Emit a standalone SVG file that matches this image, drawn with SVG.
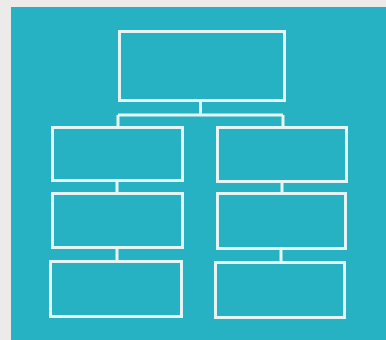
<svg xmlns="http://www.w3.org/2000/svg" width="386" height="340" viewBox="0 0 386 340">
<style>
.n{fill:none;stroke:#e6f4f4;stroke-width:3}
.c{fill:none;stroke:#e6f4f4;stroke-width:3}
</style>
<rect x="0" y="0" width="386" height="340" fill="#ecebea"/>
<rect x="11" y="7" width="375" height="333" fill="#27b2c3"/>
<g id="connectors">
<path class="c" d="M200.5 101V115M118 115H283M118 115V127M283 115V127"/>
<path class="c" d="M117 181V193M282 182V193"/>
<path class="c" d="M117 248V261M281 249V262"/>
</g>
<g id="n0"><rect class="n" x="119.5" y="31.5" width="165" height="69"/></g>
<g id="n1"><rect class="n" x="52.5" y="127.5" width="130" height="53"/></g>
<g id="n2"><rect class="n" x="217.5" y="127.5" width="129" height="54"/></g>
<g id="n3"><rect class="n" x="52.5" y="193.5" width="130" height="54"/></g>
<g id="n4"><rect class="n" x="217.5" y="193.5" width="128" height="55"/></g>
<g id="n5"><rect class="n" x="50.5" y="261.5" width="131" height="55"/></g>
<g id="n6"><rect class="n" x="215.5" y="262.5" width="129" height="55"/></g>
</svg>
